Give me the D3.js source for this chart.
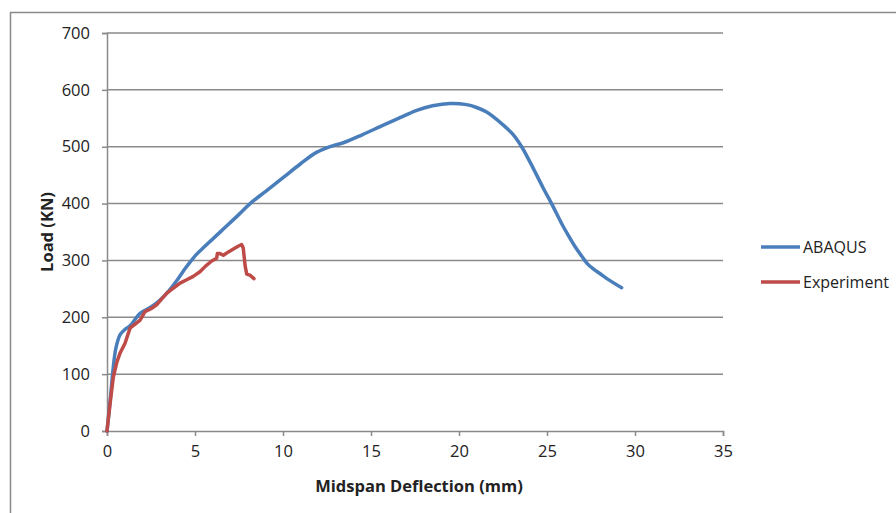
<!DOCTYPE html>
<html>
<head>
<meta charset="utf-8">
<script src="https://cdn.jsdelivr.net/npm/d3@7"></script>
<style>
  html, body { margin: 0; padding: 0; background: #fff; }
  svg { display: block; }
  text { font-family: "Open Sans", "Liberation Sans", sans-serif; fill: #222; }
</style>
</head>
<body>
<svg id="chart" width="896" height="513"></svg>
<script>
// ---- data ----
const abaqusX = [0,0.2,0.36,0.5,0.74,1.0,1.31,1.88,2.5,3.0,3.5,4.0,4.4,4.72,5.1,5.5,6.5,7.5,8.13,9,10.02,11,11.9,12.86,13.43,14.5,15.7,16.65,17.6,18.5,19.5,20.43,21.0,21.57,22.52,23.09,23.56,24.22,24.79,25.26,25.83,26.1,26.6,27.03,27.3,27.63,28.0,28.4,29.24];
const abaqusY = [0,60,113,145,169,178,185,207,218,230,246,266,284,297,311,323,352,381,400,421,446,470,490,502,507,521,538,551,564,572,576,574,569,561,538,521,500,462,427,400,365,350,324,305,294,285,277,268,252];

const expX = [0,0.2,0.36,0.55,0.74,1.02,1.31,1.6,1.88,2.16,2.5,2.82,3.1,3.39,3.8,4.15,4.53,4.9,5.28,5.6,5.95,6.23,6.27,6.42,6.61,6.9,7.18,7.45,7.65,7.74,7.85,7.94,8.12,8.35];
const expY = [0,55,95,120,137,154,181,188,195,210,215,222,232,242,252,260,266,272,280,290,299,304,312,312,309,315,320,325,328,322,290,276,274,268];

const xTicks = [0,5,10,15,20,25,30,35];
const yTicks = [0,100,200,300,400,500,600,700];
const seriesNames = ["ABAQUS","Experiment"];
const seriesColors = ["#4a7ebb","#be4b48"];
const xTitle = "Midspan Deflection (mm)";
const yTitle = "Load (KN)";

// ---- layout ----
const svg = d3.select("#chart");
const axisColor = "#8a8a8a";

// outer border (chart area frame)
svg.append("path")
  .attr("d", "M10.5,520 L10.5,12.5 L900,12.5")
  .attr("fill", "none").attr("stroke", axisColor).attr("stroke-width", 1.5);

const x = d3.scaleLinear().domain([0,35]).range([107,723]);
const y = d3.scaleLinear().domain([0,700]).range([431,33]);

// gridlines
svg.append("g").selectAll("line").data(yTicks.filter(d => d > 0)).join("line")
  .attr("x1", x(0)).attr("x2", x(35))
  .attr("y1", d => y(d)).attr("y2", d => y(d))
  .attr("stroke", axisColor).attr("stroke-width", 1.5);

// y axis
const yAxis = svg.append("g").attr("transform", `translate(${x(0)},0)`)
  .call(d3.axisLeft(y).tickValues(yTicks).tickSize(5).tickPadding(12).tickFormat(d3.format("d")));
yAxis.select(".domain").attr("stroke", axisColor).attr("stroke-width", 1.5);
yAxis.selectAll(".tick line").attr("stroke", axisColor).attr("stroke-width", 1.5);
yAxis.selectAll("text").attr("font-size", 16.5).attr("font-family", "Open Sans").attr("fill", "#1e1e1e");

// x axis
const xAxis = svg.append("g").attr("transform", `translate(0,${y(0)})`)
  .call(d3.axisBottom(x).tickValues(xTicks).tickSize(5).tickPadding(9).tickFormat(d3.format("d")));
xAxis.select(".domain").attr("stroke", axisColor).attr("stroke-width", 1.5);
xAxis.selectAll(".tick line").attr("stroke", axisColor).attr("stroke-width", 1.5);
xAxis.selectAll("text").attr("font-size", 16.5).attr("font-family", "Open Sans").attr("fill", "#1e1e1e");

// lines
const series = [
  {name: seriesNames[0], xs: abaqusX, ys: abaqusY, color: seriesColors[0], curve: d3.curveCatmullRom.alpha(0.5)},
  {name: seriesNames[1], xs: expX, ys: expY, color: seriesColors[1], curve: d3.curveLinear}
];
series.forEach(s => {
  const pts = s.xs.map((v, i) => [v, s.ys[i]]);
  svg.append("path")
    .datum(pts)
    .attr("fill", "none")
    .attr("stroke", s.color)
    .attr("stroke-width", 3.5)
    .attr("stroke-linejoin", "round")
    .attr("stroke-linecap", "round")
    .attr("d", d3.line().x(d => x(d[0])).y(d => y(d[1])).curve(s.curve));
});

// axis titles
svg.append("text")
  .attr("x", 419).attr("y", 492)
  .attr("text-anchor", "middle")
  .attr("font-size", 16.5).attr("font-weight", "bold")
  .attr("fill", "#111")
  .text(xTitle);

svg.append("text")
  .attr("transform", "translate(53,232) rotate(-90)")
  .attr("text-anchor", "middle")
  .attr("font-size", 16.5).attr("font-weight", "bold")
  .attr("fill", "#111")
  .text(yTitle);

// legend
const legendY = [247, 282];
series.forEach((s, i) => {
  svg.append("line")
    .attr("x1", 761).attr("x2", 800)
    .attr("y1", legendY[i]).attr("y2", legendY[i])
    .attr("stroke", s.color).attr("stroke-width", 3.5);
  svg.append("text")
    .attr("x", 803).attr("y", legendY[i] + 6)
    .attr("font-size", 16)
    .text(s.name);
});
</script>
</body>
</html>
